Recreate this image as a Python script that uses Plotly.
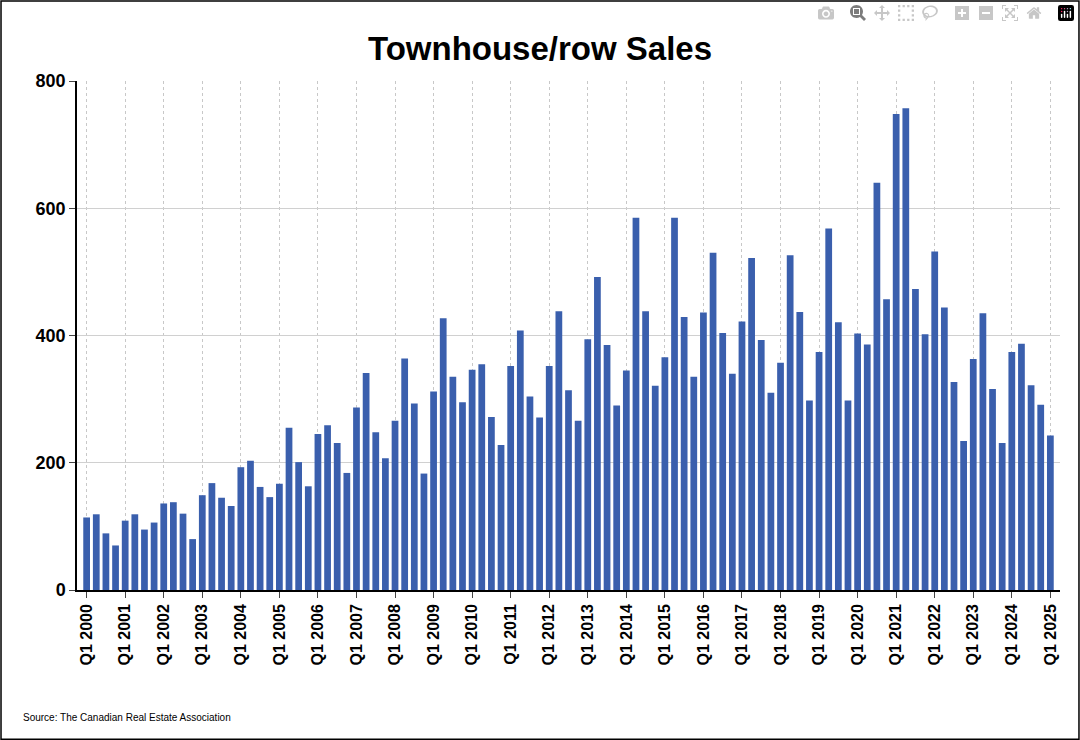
import plotly.graph_objects as go

years = list(range(2000, 2026))
quarters = [f"Q{q} {y}" for y in years for q in range(1, 5)][:101]

sales = [
    114, 119, 89, 70,
    109, 119, 95, 106,
    136, 138, 120, 80,
    149, 168, 145, 132,
    193, 203, 162, 146,
    167, 255, 201, 163,
    245, 259, 231, 184,
    287, 341, 248, 207,
    266, 364, 293, 183,
    312, 427, 335, 295,
    346, 355, 272, 228,
    352, 408, 304, 271,
    352, 438, 314, 266,
    394, 492, 385, 290,
    345, 585, 438, 321,
    366, 585, 429, 335,
    436, 530, 404, 340,
    422, 522, 393, 310,
    357, 526, 437, 298,
    374, 568, 421, 298,
    403, 386, 640, 457,
    748, 757, 473, 402,
    532, 444, 327, 234,
    363, 435, 316, 231,
    374, 387, 322, 291,
    243,
]

q1_labels = [f"Q1 {y}" for y in years]
y_ticks = [0, 200, 400, 600, 800]
font = dict(family="Liberation Sans, Arial", size=16, color="black")

fig = go.Figure()
fig.add_trace(go.Bar(x=quarters, y=sales, marker=dict(color="#3a5fad", line=dict(width=0)), showlegend=False))

fig.update_xaxes(type="category", tickmode="array", tickvals=q1_labels,
                 ticktext=[f"<b>{t}</b>" for t in q1_labels],
                 tickangle=-90, tickfont=font, range=[-1, 101], ticks="outside", ticklen=6,
                 showline=True, linecolor="black", linewidth=1.5, showgrid=True,
                 gridcolor="#c8c8c8", griddash="dot", gridwidth=1)
fig.update_yaxes(range=[0, 800], tickmode="array", tickvals=y_ticks,
                 ticktext=[f"<b>{v}</b>" for v in y_ticks],
                 tickfont=dict(family="Liberation Sans, Arial", size=18, color="black"),
                 ticks="outside", ticklen=6, showline=True, linecolor="black", linewidth=1.5,
                 gridcolor="#d0d0d0", gridwidth=1, zeroline=False)

fig.update_layout(
    width=1080, height=740,
    title=dict(text="<b>Townhouse/row Sales</b>", x=0.5, xanchor="center", y=0.95,
               font=dict(family="Liberation Sans, Arial", size=33, color="black")),
    margin=dict(l=77, r=20, t=81, b=150),
    plot_bgcolor="white", paper_bgcolor="white", bargap=0.3,
    annotations=[dict(text="Source: The Canadian Real Estate Association", xref="paper", yref="paper",
                      x=-0.057, y=-0.25, xanchor="left", yanchor="middle", showarrow=False,
                      font=dict(family="Liberation Sans, Arial", size=10, color="black"))],
    shapes=[dict(type="rect", xref="paper", yref="paper", x0=-0.0773, x1=1.0193, y0=-0.293, y1=1.157,
                 line=dict(color="black", width=1.5))],
)

fig.write_html("out.html", post_script="document.body.style.margin='0';")
